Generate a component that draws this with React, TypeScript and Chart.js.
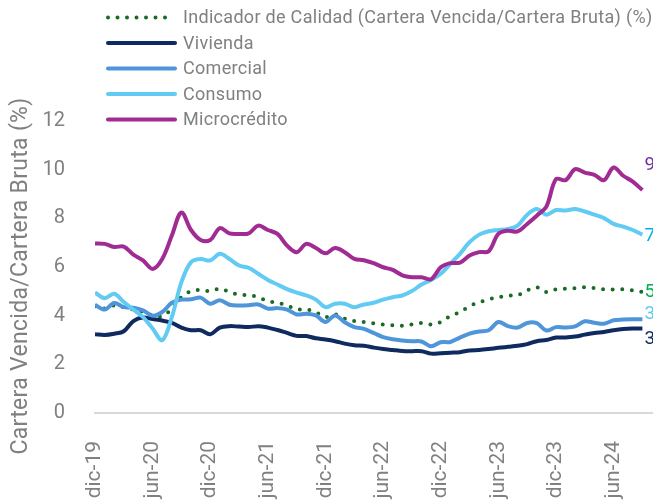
import React, { useEffect, useRef } from "react";
import { Chart, registerables } from "chart.js";

Chart.register(...registerables);

// Categories (monthly, dic-19 .. sep-24)
const months = [
  "dic-19",
  "ene-20", "feb-20", "mar-20", "abr-20", "may-20", "jun-20", "jul-20", "ago-20", "sep-20", "oct-20", "nov-20", "dic-20",
  "ene-21", "feb-21", "mar-21", "abr-21", "may-21", "jun-21", "jul-21", "ago-21", "sep-21", "oct-21", "nov-21", "dic-21",
  "ene-22", "feb-22", "mar-22", "abr-22", "may-22", "jun-22", "jul-22", "ago-22", "sep-22", "oct-22", "nov-22", "dic-22",
  "ene-23", "feb-23", "mar-23", "abr-23", "may-23", "jun-23", "jul-23", "ago-23", "sep-23", "oct-23", "nov-23", "dic-23",
  "ene-24", "feb-24", "mar-24", "abr-24", "may-24", "jun-24", "jul-24", "ago-24", "sep-24",
];

// Tick labels shown on the x axis (indices into months)
const xTickIndices = [0, 6, 12, 18, 24, 30, 36, 42, 48, 54];
const yTicks = [0, 2, 4, 6, 8, 10, 12];
const yTitle = "Cartera Vencida/Cartera Bruta (%)";

// Series
const seriesNames = [
  "Indicador de Calidad (Cartera Vencida/Cartera Bruta) (%)",
  "Vivienda",
  "Comercial",
  "Consumo",
  "Microcrédito",
];

const indicador = [4.39, 4.29, 4.42, 4.35, 4.25, 4.15, 4.01, 3.97, 4.29, 4.76, 5.01, 5.06, 5.01, 5.11, 4.97, 4.87, 4.84, 4.76, 4.6, 4.53, 4.42, 4.26, 4.26, 4.14, 3.94, 4.05, 3.88, 3.78, 3.74, 3.69, 3.64, 3.6, 3.59, 3.64, 3.7, 3.64, 3.74, 3.99, 4.15, 4.39, 4.55, 4.67, 4.76, 4.82, 4.84, 5.04, 5.17, 4.97, 5.08, 5.11, 5.13, 5.17, 5.13, 5.08, 5.08, 5.08, 5.04, 4.97];
const vivienda = [3.24, 3.21, 3.26, 3.36, 3.78, 3.92, 3.86, 3.8, 3.7, 3.51, 3.4, 3.4, 3.24, 3.51, 3.57, 3.55, 3.53, 3.57, 3.51, 3.41, 3.29, 3.17, 3.16, 3.07, 3.02, 2.95, 2.85, 2.78, 2.76, 2.69, 2.63, 2.59, 2.55, 2.54, 2.54, 2.44, 2.46, 2.48, 2.5, 2.57, 2.59, 2.63, 2.68, 2.72, 2.76, 2.83, 2.95, 3.0, 3.1, 3.1, 3.14, 3.22, 3.29, 3.33, 3.4, 3.45, 3.47, 3.47];
const comercial = [4.45, 4.25, 4.52, 4.35, 4.33, 4.22, 4.0, 4.15, 4.53, 4.66, 4.67, 4.74, 4.49, 4.63, 4.45, 4.42, 4.43, 4.46, 4.29, 4.31, 4.25, 4.05, 4.08, 4.01, 3.74, 4.01, 3.73, 3.53, 3.46, 3.29, 3.12, 3.03, 2.98, 2.95, 2.94, 2.74, 2.91, 2.92, 3.1, 3.26, 3.35, 3.4, 3.74, 3.57, 3.51, 3.7, 3.69, 3.39, 3.53, 3.51, 3.56, 3.77, 3.71, 3.67, 3.81, 3.84, 3.85, 3.85];
const consumo = [4.95, 4.72, 4.9, 4.56, 4.25, 3.94, 3.47, 2.99, 3.94, 5.38, 6.2, 6.33, 6.27, 6.54, 6.33, 6.06, 5.97, 5.72, 5.47, 5.28, 5.09, 4.95, 4.83, 4.66, 4.35, 4.49, 4.49, 4.35, 4.46, 4.53, 4.66, 4.76, 4.83, 5.01, 5.28, 5.47, 5.72, 6.13, 6.54, 7.02, 7.33, 7.47, 7.52, 7.56, 7.7, 8.15, 8.38, 8.15, 8.34, 8.32, 8.38, 8.28, 8.15, 8.01, 7.77, 7.66, 7.52, 7.33];
const micro = [6.97, 6.95, 6.82, 6.84, 6.51, 6.27, 5.92, 6.33, 7.29, 8.24, 7.52, 7.11, 7.11, 7.6, 7.38, 7.36, 7.38, 7.7, 7.52, 7.36, 6.88, 6.61, 6.95, 6.78, 6.56, 6.78, 6.61, 6.33, 6.28, 6.16, 5.99, 5.88, 5.66, 5.58, 5.58, 5.5, 5.99, 6.16, 6.18, 6.47, 6.61, 6.65, 7.36, 7.49, 7.46, 7.77, 8.11, 8.48, 9.61, 9.57, 10.02, 9.88, 9.79, 9.57, 10.09, 9.75, 9.51, 9.16];

const seriesData = [indicador, vivienda, comercial, consumo, micro];
const lineColors = ["#196B24", "#0E2A5E", "#4E95D9", "#61CBF3", "#A02B93"];
const endLabelColors = ["#00B050", "#0E2A5E", "#61CBF3", "#00B0F0", "#7030A0"];
const endLabelOffsets = [0, 11, -5, 2, -25];
const drawOrder = [4, 3, 2, 1, 0];

const GRAY = "#808080";
const FONT = "Roboto";

const fmt = (v: number) => v.toFixed(1).replace(".", ",");

const legendPlugin = {
  id: "customLegend",
  afterDraw(chart: any) {
    const ctx = chart.ctx;
    ctx.save();
    seriesNames.forEach((name, i) => {
      const y = 17.5 + i * 25.5;
      ctx.strokeStyle = lineColors[i];
      ctx.lineWidth = 4;
      ctx.lineCap = "round";
      ctx.beginPath();
      if (i === 0) {
        ctx.setLineDash([0, 9.5]);
        ctx.moveTo(108, y);
        ctx.lineTo(170, y);
      } else {
        ctx.setLineDash([]);
        ctx.moveTo(108, y);
        ctx.lineTo(175, y);
      }
      ctx.stroke();
      ctx.setLineDash([]);
      ctx.fillStyle = GRAY;
      ctx.font = `18px ${FONT}`;
      (ctx as any).letterSpacing = "0.3px";
      ctx.textBaseline = "middle";
      ctx.textAlign = "left";
      ctx.fillText(name, 183, y + 1);
      (ctx as any).letterSpacing = "0px";
    });
    // y axis title
    ctx.translate(21, 276);
    ctx.rotate(-Math.PI / 2);
    ctx.font = `23px ${FONT}`;
    (ctx as any).letterSpacing = "0.3px";
    ctx.fillStyle = GRAY;
    ctx.textAlign = "center";
    ctx.textBaseline = "middle";
    ctx.fillText(yTitle, 0, 0);
    ctx.restore();
  },
};

const endLabelPlugin = {
  id: "endLabels",
  afterDatasetsDraw(chart: any) {
    const ctx = chart.ctx;
    ctx.save();
    ctx.font = `19px ${FONT}`;
    ctx.textBaseline = "middle";
    ctx.textAlign = "left";
    chart.data.datasets.forEach((ds: any, i: number) => {
      const meta = chart.getDatasetMeta(i);
      const pt = meta.data[meta.data.length - 1];
      const val = seriesData[i][seriesData[i].length - 1];
      ctx.fillStyle = endLabelColors[i];
      ctx.fillText(fmt(val), pt.x + 2, pt.y + endLabelOffsets[i]);
    });
    ctx.restore();
  },
};

export default function App() {
  const ref = useRef<HTMLCanvasElement>(null);
  useEffect(() => {
    if (!ref.current) return;
    Chart.defaults.font.family = FONT;
    const datasets = seriesData.map((arr, i) => ({
      label: seriesNames[i],
      data: arr.map((v, idx) => ({ x: idx, y: v })),
      borderColor: lineColors[i],
      backgroundColor: lineColors[i],
      borderWidth: 4,
      pointRadius: 0,
      tension: 0.35,
      fill: false,
      order: drawOrder[i],
      borderDash: i === 0 ? [0, 9.6] : [],
      borderCapStyle: i === 0 ? "round" : "butt",
    }));
    const chart = new Chart(ref.current, {
      type: "line",
      data: { datasets } as any,
      plugins: [legendPlugin, endLabelPlugin],
      options: {
        animation: false,
        responsive: false,
        layout: { padding: { top: 121, right: 1, left: 0, bottom: 0 } },
        plugins: { legend: { display: false }, tooltip: { enabled: false } },
        scales: {
          x: {
            type: "linear",
            min: 0,
            max: 58,
            grid: { display: false },
            border: { display: true, color: "#D9D9D9", width: 2 },
            afterBuildTicks: (scale: any) => {
              scale.ticks = xTickIndices.map((v) => ({ value: v }));
            },
            afterFit: (scale: any) => {
              scale.height = 87;
              scale.paddingLeft = 0;
              scale.paddingRight = 0;
            },
            ticks: {
              autoSkip: false,
              minRotation: 90,
              maxRotation: 90,
              padding: 20,
              color: GRAY,
              font: { size: 21, family: FONT },
              callback: (v: any) => months[v] ?? "",
            },
          },
          y: {
            min: 0,
            max: 12,
            grid: { display: false },
            border: { display: false },
            afterBuildTicks: (scale: any) => {
              scale.ticks = yTicks.map((v) => ({ value: v }));
            },
            afterFit: (scale: any) => {
              scale.width = 95;
              scale.paddingTop = 0;
              scale.paddingBottom = 0;
            },
            ticks: {
              padding: 22,
              color: GRAY,
              font: { size: 20, family: FONT },
            },
          },
        },
      } as any,
    });
    return () => chart.destroy();
  }, []);
  return (
    <div style={{ position: "absolute", left: 0, top: 0, width: 653, height: 500, background: "#fff", overflow: "hidden" }}>
      <canvas ref={ref} width={653} height={500} style={{ display: "block" }} />
    </div>
  );
}
